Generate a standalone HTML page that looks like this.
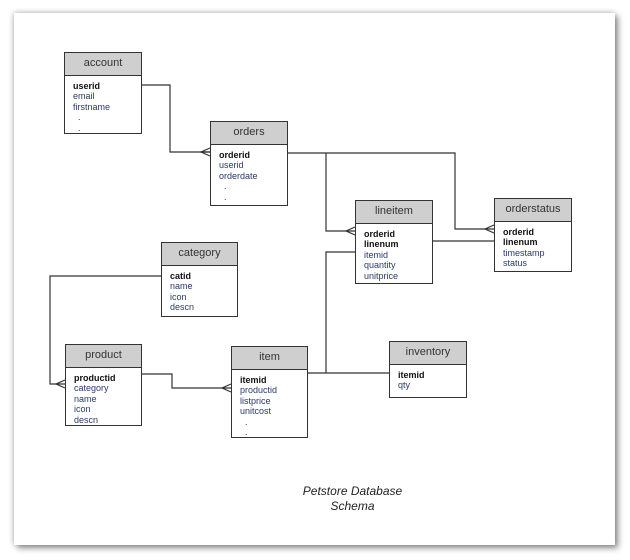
<!DOCTYPE html>
<html><head><style>
body{margin:0;background:#fff;width:630px;height:560px;position:relative;overflow:hidden;font-family:"Liberation Sans",sans-serif}
.frame{position:absolute;left:14px;top:13px;width:601px;height:532px;background:#fff;box-shadow:3px 3px 6px rgba(0,0,0,.45),-1px -1px 5px rgba(0,0,0,.2)}
.t{position:absolute;border:1.5px solid #333;background:#fff;box-sizing:border-box}
.h{background:#cfcfcf;border-bottom:1.5px solid #333;height:22px;line-height:21px;text-align:center;font-size:11px;color:#333}
.b{padding:5px 0 0 8px;font-size:9px;line-height:10.4px;color:#2a3a6a}
.b b{color:#111}
.cap{position:absolute;left:280px;top:484px;width:145px;text-align:center;font-style:italic;font-size:12px;line-height:15px;color:#222}
</style></head><body>
<div class="frame"></div>
<svg width="630" height="560" style="position:absolute;left:0;top:0" fill="none" stroke="#333" stroke-width="1.2">
<polyline points="141,85 170,85 170,152 210,152"/>
<path d="M210,152 L200,152 M210,148 L201,152 L210,156"/>
<polyline points="287,153 455,153 455,229 494,229"/>
<path d="M494,225 L485,229 L494,233"/>
<polyline points="326,153 326,231 355,231"/>
<path d="M355,227 L346,231 L355,235"/>
<line x1="432" y1="241" x2="494" y2="241"/>
<polyline points="355,252 326,252 326,373"/>
<line x1="307" y1="373" x2="389" y2="373"/>
<polyline points="161,276 50,276 50,384 65,384"/>
<path d="M65,380 L56,384 L65,388"/>
<polyline points="141,374 172,374 172,388 231,388"/>
<path d="M231,384 L222,388 L231,392"/>
</svg>
<div class="t" style="left:64px;top:52px;width:78px;height:82px"><div class="h">account</div><div class="b"><b>userid</b><br>email<br>firstname<br>&nbsp;&nbsp;.<br>&nbsp;&nbsp;.</div></div>
<div class="t" style="left:210px;top:121px;width:78px;height:85px"><div class="h">orders</div><div class="b"><b>orderid</b><br>userid<br>orderdate<br>&nbsp;&nbsp;.<br>&nbsp;&nbsp;.</div></div>
<div class="t" style="left:355px;top:200px;width:78px;height:84px"><div class="h">lineitem</div><div class="b"><b>orderid</b><br><b>linenum</b><br>itemid<br>quantity<br>unitprice</div></div>
<div class="t" style="left:494px;top:198px;width:78px;height:74px"><div class="h">orderstatus</div><div class="b"><b>orderid</b><br><b>linenum</b><br>timestamp<br>status</div></div>
<div class="t" style="left:161px;top:242px;width:77px;height:75px"><div class="h">category</div><div class="b"><b>catid</b><br>name<br>icon<br>descn</div></div>
<div class="t" style="left:65px;top:344px;width:77px;height:82px"><div class="h">product</div><div class="b"><b>productid</b><br>category<br>name<br>icon<br>descn</div></div>
<div class="t" style="left:231px;top:346px;width:77px;height:92px"><div class="h">item</div><div class="b"><b>itemid</b><br>productid<br>listprice<br>unitcost<br>&nbsp;&nbsp;.<br>&nbsp;&nbsp;.</div></div>
<div class="t" style="left:389px;top:341px;width:78px;height:57px"><div class="h">inventory</div><div class="b"><b>itemid</b><br>qty</div></div>
<div class="cap">Petstore Database<br>Schema</div>
</body></html>
